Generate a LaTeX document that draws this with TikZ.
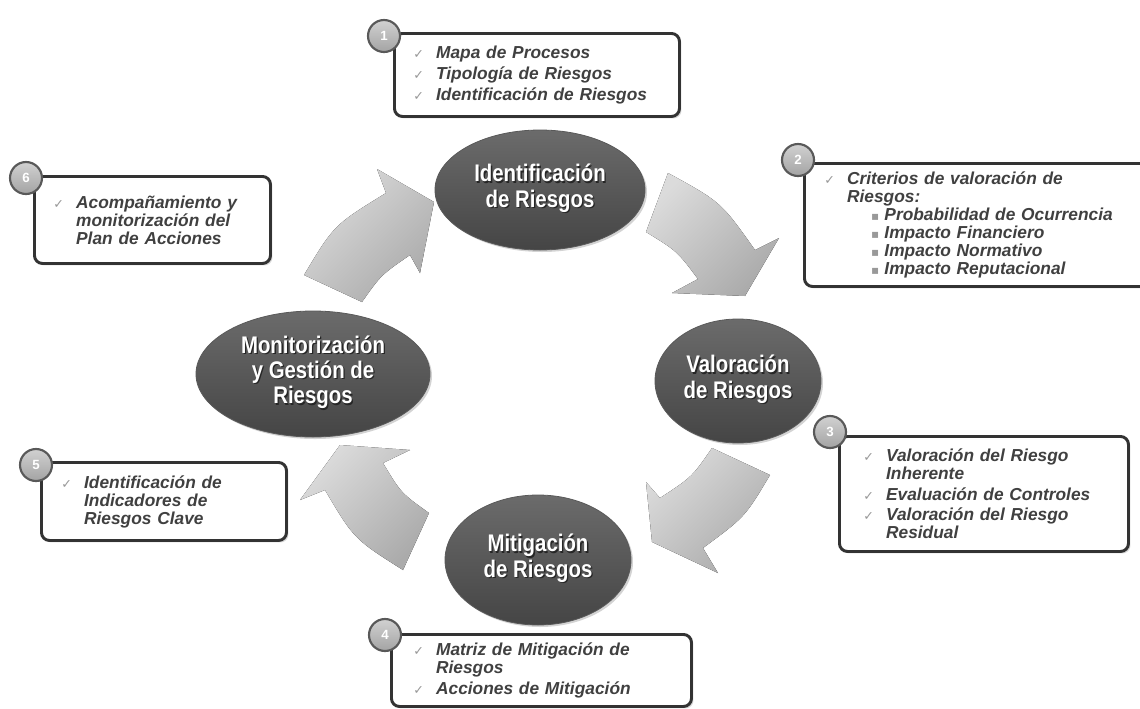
\documentclass[tikz,border=0pt]{standalone}
\usepackage{fontspec}
\setmainfont{Liberation Sans}
\newfontfamily\symfont{DejaVu Sans}
\newfontfamily\ellfont[FakeStretch=0.85]{Liberation Sans}
\usetikzlibrary{shapes.geometric,shadows}

\newcommand\chk{\makebox[17pt][l]{\textcolor{black!40}{\symfont\fontsize{9.5}{9.5}\selectfont ✓}}}
\newcommand\ind{\hspace*{17pt}}
\newcommand\sqb{\hspace*{35pt}\makebox[10pt][l]{\textcolor{black!40}{\symfont\fontsize{9}{9}\selectfont ▪}}}
\newcommand\shtext[1]{\makebox[0pt][l]{\hspace{1pt}\raisebox{-1pt}{\textcolor{black!85}{\begin{tabular}{@{}c@{}}#1\end{tabular}}}}\begin{tabular}{@{}c@{}}#1\end{tabular}}

\tikzset{
  phase/.style = {ellipse, inner sep=0pt, top color=black!58, bottom color=black!73,
    draw=black!65, line width=0.6pt, text=white,
    font=\ellfont\bfseries\fontsize{18}{19}\selectfont,
    drop shadow={opacity=0.35, shadow xshift=1.5pt, shadow yshift=-1.5pt}},
  infobox/.style = {rectangle, draw=black!80, line width=2.2pt, rounded corners=6pt,
    fill=white, align=left, inner ysep=4pt, text=black!75,
    font=\bfseries\itshape\fontsize{13}{13.5}\selectfont,
    drop shadow={opacity=0.3, shadow xshift=1.5pt, shadow yshift=-1.5pt}},
  badge/.style = {circle, minimum size=24pt, inner sep=0pt, top color=black!18,
    bottom color=black!36, draw=black!65, line width=1.6pt, text=white,
    font=\bfseries\fontsize{10}{10}\selectfont},
  cyclearrow/.style = {top color=black!14, bottom color=black!33, shading angle=45}
}

\begin{document}
\begin{tikzpicture}[x=0.75pt, y=-0.75pt]
  \useasboundingbox (0,0) rectangle (1140,708);
  \clip (0,0) rectangle (1140,708);

  % cycle arrows
  \fill[cyclearrow] (668,173) .. controls (721,202) .. (755,250) -- (779,238) -- (745,296)
    -- (672,293) -- (698,279) .. controls (677,251) .. (646,232) -- cycle;
  \fill[cyclearrow] (770,475) .. controls (745,517) .. (703,548) -- (718,573) -- (652,542)
    -- (646,482) -- (660,498) .. controls (692,477) .. (712,448) -- cycle;
  \fill[cyclearrow] (403,570) .. controls (354,539) .. (325,490) -- (300,500) -- (340,445)
    -- (410,450) -- (383,463) .. controls (401,493) .. (429,513) -- cycle;
  \fill[cyclearrow] (304,275) .. controls (334,225) .. (386,193) -- (377,169) -- (434,202)
    -- (420,273) -- (410,255) .. controls (381,275) .. (362,302) -- cycle;

  % phases
  \node[phase, minimum width=157.5pt, minimum height=90pt] (ident) at (540,190)
    {\shtext{Identificación\\de Riesgos}};
  \node[phase, minimum width=124.5pt, minimum height=93pt] (valor) at (738,381)
    {\shtext{Valoración\\de Riesgos}};
  \node[phase, minimum width=139.5pt, minimum height=97.5pt] (mitig) at (538,560)
    {\shtext{Mitigación\\de Riesgos}};
  \node[phase, minimum width=175.5pt, minimum height=94.5pt] (monit) at (313,374)
    {\shtext{Monitorización\\y Gestión de\\Riesgos}};

  % boxes
  \node[infobox, anchor=north west, text width=185.25pt, minimum height=62.25pt,
    inner xsep=14.25pt] (box1) at (393,32)
    {\chk Mapa de Procesos\\[2.5pt] \chk Tipología de Riesgos\\[2.5pt]
     \chk Identificación de Riesgos};
  \node[infobox, anchor=north west, text width=230.25pt, minimum height=92.25pt,
    inner xsep=15pt] (box2) at (803,162)
    {\chk Criterios de valoración de\\ \ind Riesgos:\\ \sqb Probabilidad de Ocurrencia\\
     \sqb Impacto Financiero\\ \sqb Impacto Normativo\\ \sqb Impacto Reputacional};
  \node[infobox, anchor=north west, text width=180.75pt, minimum height=86.25pt,
    inner xsep=18pt] (box3) at (838,435)
    {\chk Valoración del Riesgo\\ \ind Inherente\\[2pt] \chk Evaluación de Controles\\[2pt]
     \chk Valoración del Riesgo\\ \ind Residual};
  \node[infobox, anchor=north west, text width=192pt, minimum height=54pt,
    inner xsep=16.5pt] (box4) at (390,633)
    {\chk Matriz de Mitigación de\\ \ind Riesgos\\[2pt] \chk Acciones de Mitigación};
  \node[infobox, anchor=north west, text width=153.75pt, minimum height=58.5pt,
    inner xsep=15pt] (box5) at (40,461)
    {\chk Identificación de\\ \ind Indicadores de\\ \ind Riesgos Clave};
  \node[infobox, anchor=north west, text width=148.5pt, minimum height=65.25pt,
    inner xsep=14.25pt] (box6) at (33,175)
    {\chk Acompañamiento y\\ \ind monitorización del\\ \ind Plan de Acciones};

  % badges
  \node[badge] (num1) at (384,36) {1};
  \node[badge] (num2) at (798,160) {2};
  \node[badge] (num3) at (830,432) {3};
  \node[badge] (num4) at (385,635) {4};
  \node[badge] (num5) at (36,465) {5};
  \node[badge] (num6) at (26,178) {6};
\end{tikzpicture}
\end{document}
